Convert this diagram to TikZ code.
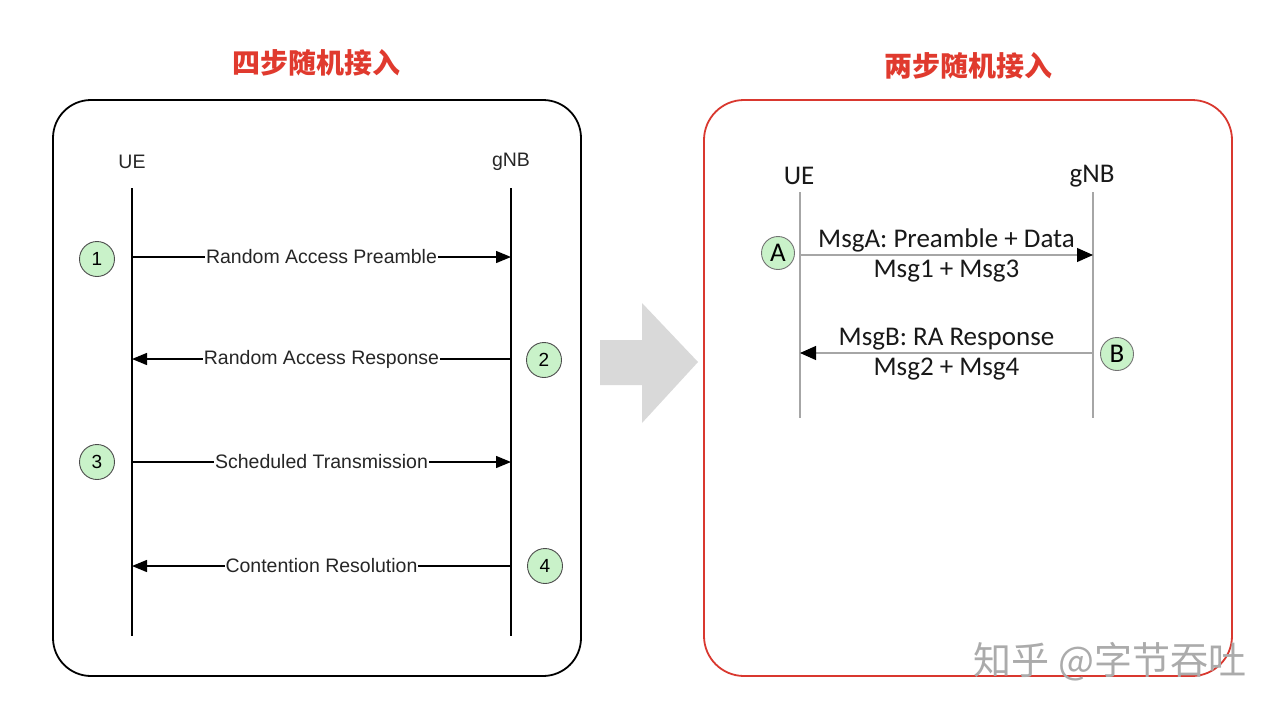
\documentclass[tikz,border=0pt]{standalone}
\usepackage{fontspec}
\setmainfont{Liberation Sans}
\newfontfamily\carlitofont{Carlito}
\newfontfamily\cjkfont{Noto Sans CJK SC}
\usetikzlibrary{arrows.meta}
\definecolor{tred}{HTML}{E03A2E}
\definecolor{pred}{HTML}{D9382F}
\definecolor{cgreen}{HTML}{C9F2C9}
\definecolor{agray}{HTML}{D9D9D9}
\definecolor{lgray}{HTML}{A6A6A6}
\begin{document}
\begin{tikzpicture}[x=1pt,y=-1pt,
  title/.style={font=\cjkfont\bfseries\fontsize{28}{31}\selectfont, text=tred},
  lbl/.style={font=\fontsize{19.5}{21}\selectfont, inner sep=1pt, text=black!85},
  rlbl/.style={font=\carlitofont\fontsize{27}{30}\selectfont, inner sep=1pt, text=black!90},
  life/.style={line width=1.5pt, black},
  rlife/.style={line width=1.1pt, lgray},
  msg/.style={line width=1.3pt, black, -{Triangle[length=15pt,width=12pt]}},
  rmsg/.style={line width=1.1pt, lgray, -{Triangle[length=16pt,width=14pt,color=black]}},
  num/.style={circle, draw=black!70, line width=0.9pt, fill=cgreen, minimum size=35pt, inner sep=0pt, font=\fontsize{19}{20}\selectfont},
  rnum/.style={circle, draw=black!55, line width=0.9pt, fill=cgreen, minimum size=33pt, inner sep=0pt, font=\carlitofont\fontsize{27}{28}\selectfont},
]
\useasboundingbox (0,0) rectangle (1280,712);
\fill[white] (0,0) rectangle (1280,712);

% titles
\node[title] (t1) at (316,63) {四步随机接入};
\node[title] (t2) at (968,66) {两步随机接入};

% panels
\draw[line width=1.8pt, black, rounded corners=38pt] (53,100) rectangle (581,676);
\draw[line width=1.8pt, pred, rounded corners=40pt] (704,100) rectangle (1232,676);

% ---- left: four-step ----
\node[lbl] (ue) at (132,162) {UE};
\node[lbl] (gnb) at (511,162) {gNB};
\coordinate (ueT) at (132,188); \coordinate (ueB) at (132,636);
\coordinate (gT) at (511,188);  \coordinate (gB) at (511,636);
\draw[life] (ueT) -- (ueB);
\draw[life] (gT) -- (gB);

\coordinate (u1) at (132,257); \coordinate (g1) at (511,257);
\coordinate (u2) at (132,359); \coordinate (g2) at (511,359);
\coordinate (u3) at (132,462); \coordinate (g3) at (511,462);
\coordinate (u4) at (132,566); \coordinate (g4) at (511,566);

\draw[msg] (u1) -- (g1) node[midway, lbl, fill=white] (m1) {Random Access Preamble};
\draw[msg] (g2) -- (u2) node[midway, lbl, fill=white] (m2) {Random Access Response};
\draw[msg] (u3) -- (g3) node[midway, lbl, fill=white] (m3) {Scheduled Transmission};
\draw[msg] (g4) -- (u4) node[midway, lbl, fill=white] (m4) {Contention Resolution};

\node[num] (n1) at (97,259) {1};
\node[num] (n2) at (544,360) {2};
\node[num] (n3) at (97,462) {3};
\node[num] (n4) at (545,566) {4};

% ---- big arrow ----
\fill[agray] (600,340) -- (642,340) -- (642,303) -- (698,362) -- (642,423) -- (642,385) -- (600,385) -- cycle;

% ---- right: two-step ----
\node[rlbl] (rue) at (799,176) {UE};
\node[rlbl] (rgnb) at (1092,176) {gNB};
\coordinate (rueT) at (800,192); \coordinate (rueB) at (800,418);
\coordinate (rgT) at (1093,192); \coordinate (rgB) at (1093,418);
\draw[rlife] (rueT) -- (rueB);
\draw[rlife] (rgT) -- (rgB);

\coordinate (ra1) at (800,255); \coordinate (rg1) at (1093,255);
\coordinate (ra2) at (800,353); \coordinate (rg2) at (1093,353);
\draw[rmsg] (ra1) -- (rg1)
  node[midway, above=1pt, rlbl] (ma) {MsgA: Preamble + Data}
  node[midway, below=3pt, rlbl] (ma2) {Msg1 + Msg3};
\draw[rmsg] (rg2) -- (ra2)
  node[midway, above=1pt, rlbl] (mb) {MsgB: RA Response}
  node[midway, below=3pt, rlbl] (mb2) {Msg2 + Msg4};

\node[rnum] (na) at (778,253) {A};
\node[rnum] (nb) at (1117,354) {B};

% watermark
\node[font=\cjkfont\fontsize{38}{40}\selectfont, text=black!33] (wm) at (1110,662) {知乎 @字节吞吐};
\end{tikzpicture}
\end{document}
